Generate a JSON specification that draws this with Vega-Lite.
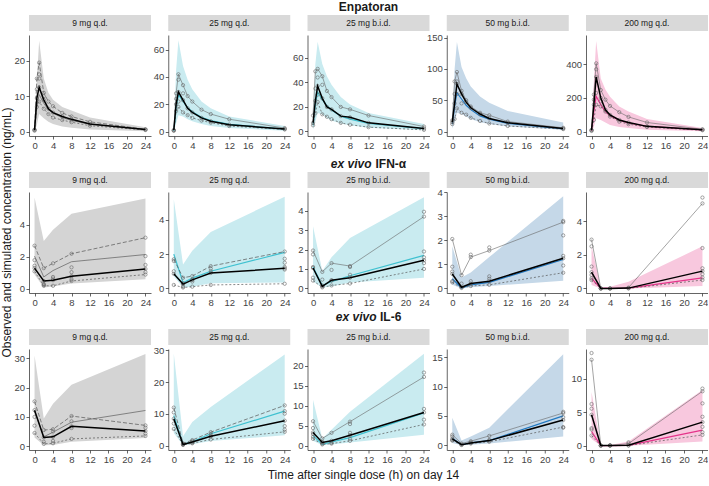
{
"$schema": "https://vega.github.io/schema/vega-lite/v6.json",
"padding": {"left": 0, "top": 0, "right": 0, "bottom": 0},
"autosize": {"type": "pad"},
"background": "white",
"config": {
 "font": "Liberation Sans",
 "view": {"stroke": null},
 "axis": {"grid": false, "domainColor": "#222", "domainWidth": 0.7, "tickColor": "#222", "tickWidth": 0.7, "tickSize": 3, "labelColor": "#444", "labelFontSize": 9.5, "labelPadding": 1.5, "labelFlush": false, "labelOverlap": false, "format": "d"},
 "line": {"color": "#555", "strokeWidth": 0.7},
 "point": {"color": "#666", "size": 11, "strokeWidth": 0.6, "filled": false, "opacity": 1},
 "text": {"font": "Liberation Sans"},
 "title": {"font": "Liberation Sans"}
},
"datasets": {
"w": [
{"p":"A1","t":0,"lo":0,"hi":1,"sim":0.3,"up":0.6,"dn":0.3,"med":0.5},
{"p":"A1","t":0.5,"lo":2,"hi":15,"sim":7,"up":15,"dn":7,"med":9.5},
{"p":"A1","t":1,"lo":5,"hi":25.7,"sim":10.5,"up":19.5,"dn":8.5,"med":12.5},
{"p":"A1","t":2,"lo":3.8,"hi":15,"sim":8,"up":11,"dn":6.5,"med":9},
{"p":"A1","t":3,"lo":2.8,"hi":11,"sim":6.2,"up":8.5,"dn":5,"med":6.5},
{"p":"A1","t":4,"lo":2.2,"hi":9,"sim":5.2,"up":7.2,"dn":4,"med":5.4},
{"p":"A1","t":6,"lo":1.5,"hi":7,"sim":4,"up":5.3,"dn":3.3,"med":4.3},
{"p":"A1","t":8,"lo":1.1,"hi":6,"sim":3.2,"up":4.3,"dn":2.7,"med":3.5},
{"p":"A1","t":12,"lo":0.6,"hi":4,"sim":2.1,"up":2.8,"dn":1.7,"med":2.2},
{"p":"A1","t":24,"lo":0.15,"hi":1.3,"sim":0.6,"up":0.7,"dn":0.5,"med":0.6},
{"p":"A2","t":0,"lo":0,"hi":2,"sim":0.3,"up":1,"dn":0.5,"med":1},
{"p":"A2","t":0.5,"lo":6,"hi":45,"sim":17,"up":28,"dn":15,"med":20},
{"p":"A2","t":1,"lo":12,"hi":67,"sim":27,"up":42,"dn":18,"med":29},
{"p":"A2","t":2,"lo":11,"hi":48,"sim":22,"up":34,"dn":14,"med":23},
{"p":"A2","t":3,"lo":9,"hi":38,"sim":17.5,"up":26,"dn":12,"med":17},
{"p":"A2","t":4,"lo":7.5,"hi":31,"sim":14.5,"up":22,"dn":10,"med":14},
{"p":"A2","t":6,"lo":5.5,"hi":22,"sim":10.5,"up":16,"dn":8,"med":10},
{"p":"A2","t":8,"lo":4,"hi":17,"sim":8,"up":12.8,"dn":6.5,"med":7.5},
{"p":"A2","t":12,"lo":2.5,"hi":11,"sim":5.2,"up":9,"dn":4,"med":5},
{"p":"A2","t":24,"lo":0.6,"hi":4,"sim":1.7,"up":2.5,"dn":1.5,"med":1.8},
{"p":"A3","t":0,"lo":1.5,"hi":13,"sim":5,"up":13,"dn":5,"med":7},
{"p":"A3","t":0.5,"lo":8,"hi":55,"sim":22,"up":49,"dn":15,"med":25},
{"p":"A3","t":1,"lo":15,"hi":73,"sim":32,"up":51,"dn":24,"med":37},
{"p":"A3","t":2,"lo":14,"hi":55,"sim":26,"up":45,"dn":14,"med":27},
{"p":"A3","t":3,"lo":11,"hi":45,"sim":21,"up":33,"dn":12,"med":20},
{"p":"A3","t":4,"lo":9,"hi":38,"sim":17.5,"up":28,"dn":10,"med":18},
{"p":"A3","t":6,"lo":6.5,"hi":28,"sim":12.5,"up":20,"dn":7,"med":12.5},
{"p":"A3","t":8,"lo":5,"hi":22,"sim":10,"up":18,"dn":5.5,"med":11.5},
{"p":"A3","t":12,"lo":3,"hi":15,"sim":6.5,"up":13,"dn":3.5,"med":7},
{"p":"A3","t":24,"lo":1,"hi":6,"sim":2.3,"up":4,"dn":1.3,"med":2.5},
{"p":"A4","t":0,"lo":5,"hi":25,"sim":12,"up":18,"dn":12,"med":15},
{"p":"A4","t":0.5,"lo":15,"hi":100,"sim":40,"up":80,"dn":20,"med":45},
{"p":"A4","t":1,"lo":30,"hi":143,"sim":62,"up":95,"dn":37,"med":76},
{"p":"A4","t":2,"lo":28,"hi":103,"sim":52,"up":65,"dn":30,"med":60},
{"p":"A4","t":3,"lo":24,"hi":85,"sim":42,"up":50,"dn":27,"med":47},
{"p":"A4","t":4,"lo":20,"hi":72,"sim":35,"up":40,"dn":22,"med":38},
{"p":"A4","t":6,"lo":15,"hi":56,"sim":25,"up":30,"dn":17,"med":28},
{"p":"A4","t":8,"lo":12,"hi":46,"sim":20,"up":26,"dn":13,"med":21},
{"p":"A4","t":12,"lo":8,"hi":33,"sim":13,"up":16,"dn":9,"med":14},
{"p":"A4","t":24,"lo":3,"hi":14.6,"sim":4.5,"up":6,"dn":4,"med":5},
{"p":"A5","t":0,"lo":0,"hi":15,"sim":5,"up":10,"dn":5,"med":10},
{"p":"A5","t":0.5,"lo":30,"hi":300,"sim":120,"up":220,"dn":70,"med":160},
{"p":"A5","t":1,"lo":80,"hi":537,"sim":210,"up":405,"dn":160,"med":325},
{"p":"A5","t":2,"lo":70,"hi":315,"sim":160,"up":247,"dn":150,"med":200},
{"p":"A5","t":3,"lo":55,"hi":250,"sim":120,"up":190,"dn":120,"med":130},
{"p":"A5","t":4,"lo":40,"hi":208,"sim":95,"up":153,"dn":90,"med":100},
{"p":"A5","t":6,"lo":28,"hi":149,"sim":68,"up":116,"dn":60,"med":70},
{"p":"A5","t":8,"lo":22,"hi":120,"sim":52,"up":88,"dn":45,"med":55},
{"p":"A5","t":12,"lo":12,"hi":75,"sim":32,"up":55,"dn":28,"med":32},
{"p":"A5","t":24,"lo":3,"hi":22,"sim":11,"up":15,"dn":9,"med":12},
{"p":"B1","t":0,"lo":0.9,"hi":5.7,"sim":2.05,"up":2.7,"dn":1.1,"med":1.3},
{"p":"B1","t":2,"lo":0.1,"hi":3.0,"sim":0.75,"up":1.3,"dn":0.2,"med":0.5},
{"p":"B1","t":4,"lo":0.15,"hi":3.7,"sim":1.15,"up":1.6,"dn":0.2,"med":0.55},
{"p":"B1","t":8,"lo":0.35,"hi":4.7,"sim":1.7,"up":2.2,"dn":0.5,"med":0.8},
{"p":"B1","t":24,"lo":0.6,"hi":5.65,"sim":2.15,"up":3.2,"dn":0.9,"med":1.25},
{"p":"B2","t":0,"lo":0.7,"hi":5.2,"sim":2.0,"up":1.7,"dn":0.2,"med":0.85},
{"p":"B2","t":2,"lo":0.05,"hi":1.4,"sim":0.33,"up":0.62,"dn":0.05,"med":0.25},
{"p":"B2","t":4,"lo":0.1,"hi":2.2,"sim":0.6,"up":0.72,"dn":0.1,"med":0.5},
{"p":"B2","t":8,"lo":0.3,"hi":3.3,"sim":1.0,"up":1.3,"dn":0.2,"med":0.9},
{"p":"B2","t":24,"lo":0.35,"hi":5.35,"sim":2.1,"up":2.15,"dn":0.27,"med":1.17},
{"p":"B3","t":0,"lo":0.35,"hi":3.2,"sim":1.1,"up":1.95,"dn":0.4,"med":1.05},
{"p":"B3","t":2,"lo":0.05,"hi":0.9,"sim":0.15,"up":0.85,"dn":0.05,"med":0.1},
{"p":"B3","t":4,"lo":0.1,"hi":1.6,"sim":0.35,"up":1.3,"dn":0.15,"med":0.42},
{"p":"B3","t":8,"lo":0.3,"hi":2.6,"sim":0.65,"up":1.15,"dn":0.25,"med":0.55},
{"p":"B3","t":24,"lo":0.55,"hi":4.7,"sim":1.7,"up":3.7,"dn":1.0,"med":1.45},
{"p":"B4","t":0,"lo":0.15,"hi":1.75,"sim":0.4,"up":2.05,"dn":0.25,"med":0.6},
{"p":"B4","t":2,"lo":0,"hi":0.45,"sim":0.02,"up":0.55,"dn":0.02,"med":0.05},
{"p":"B4","t":4,"lo":0.05,"hi":0.66,"sim":0.15,"up":1.3,"dn":0.1,"med":0.2},
{"p":"B4","t":8,"lo":0.1,"hi":1.3,"sim":0.25,"up":1.57,"dn":0.15,"med":0.3},
{"p":"B4","t":24,"lo":0.32,"hi":3.82,"sim":1.2,"up":2.75,"dn":0.65,"med":1.25},
{"p":"B5","t":0,"lo":0.2,"hi":2.5,"sim":0.6,"up":2.9,"dn":0.5,"med":0.97},
{"p":"B5","t":2,"lo":0,"hi":0.05,"sim":0,"up":0,"dn":0,"med":0},
{"p":"B5","t":4,"lo":0,"hi":0.1,"sim":0,"up":0,"dn":0,"med":0},
{"p":"B5","t":8,"lo":0,"hi":0.4,"sim":0.02,"up":0.05,"dn":0,"med":0.02},
{"p":"B5","t":24,"lo":0.15,"hi":2.5,"sim":0.63,"up":5.05,"dn":0.5,"med":1.03},
{"p":"C1","t":0,"lo":3,"hi":31,"sim":12,"up":15.3,"dn":4.5,"med":12.3},
{"p":"C1","t":2,"lo":0.3,"hi":9.5,"sim":3.2,"up":5.5,"dn":0.8,"med":3},
{"p":"C1","t":4,"lo":0.4,"hi":14.5,"sim":4.8,"up":5.8,"dn":1.0,"med":3.2},
{"p":"C1","t":8,"lo":1.5,"hi":21,"sim":8.2,"up":10.3,"dn":2.5,"med":6.8},
{"p":"C1","t":24,"lo":2.8,"hi":31.5,"sim":12.2,"up":7.1,"dn":3.5,"med":5.2},
{"p":"C2","t":0,"lo":4,"hi":29,"sim":9.5,"up":12,"dn":5.3,"med":8.5},
{"p":"C2","t":2,"lo":0.2,"hi":3,"sim":0.5,"up":0.8,"dn":0.3,"med":0.4},
{"p":"C2","t":4,"lo":0.5,"hi":7.5,"sim":1.3,"up":1.8,"dn":0.8,"med":1.2},
{"p":"C2","t":8,"lo":1.5,"hi":12.2,"sim":3.8,"up":4.3,"dn":2.0,"med":3.0},
{"p":"C2","t":24,"lo":3.3,"hi":28.7,"sim":10.9,"up":12.7,"dn":4.4,"med":7.9},
{"p":"C3","t":0,"lo":1.2,"hi":11.5,"sim":2.5,"up":6.1,"dn":1.7,"med":3.3},
{"p":"C3","t":2,"lo":0.1,"hi":1.8,"sim":0.3,"up":1.8,"dn":0.3,"med":0.8},
{"p":"C3","t":4,"lo":0.3,"hi":4.0,"sim":0.9,"up":3.2,"dn":0.5,"med":1.2},
{"p":"C3","t":8,"lo":0.8,"hi":8.5,"sim":2.0,"up":6.0,"dn":1.2,"med":2.6},
{"p":"C3","t":24,"lo":2.7,"hi":23,"sim":8.2,"up":17.2,"dn":5.3,"med":8.3},
{"p":"C4","t":0,"lo":0.4,"hi":4.7,"sim":1.2,"up":1.8,"dn":0.8,"med":1.1},
{"p":"C4","t":2,"lo":0.02,"hi":0.8,"sim":0.1,"up":0.3,"dn":0.05,"med":0.1},
{"p":"C4","t":4,"lo":0.1,"hi":1.5,"sim":0.4,"up":0.7,"dn":0.3,"med":0.4},
{"p":"C4","t":8,"lo":0.3,"hi":3.0,"sim":0.8,"up":1.6,"dn":0.6,"med":0.8},
{"p":"C4","t":24,"lo":1.5,"hi":15.5,"sim":5.0,"up":5.5,"dn":3.1,"med":4.3},
{"p":"C5","t":0,"lo":1.0,"hi":8,"sim":2.1,"up":12.8,"dn":1.5,"med":4.6},
{"p":"C5","t":2,"lo":0,"hi":0.1,"sim":0,"up":0.02,"dn":0,"med":0.02},
{"p":"C5","t":4,"lo":0,"hi":0.1,"sim":0,"up":0.02,"dn":0,"med":0.02},
{"p":"C5","t":8,"lo":0,"hi":0.6,"sim":0.05,"up":0.3,"dn":0.02,"med":0.05},
{"p":"C5","t":24,"lo":0.6,"hi":8.3,"sim":2.3,"up":8.1,"dn":1.6,"med":3.5}
],
"x": [
{"p":"A1","t":0.5,"v":12},{"p":"A1","t":1,"v":16.2},{"p":"A1","t":1,"v":15},{"p":"A1","t":2,"v":10},
{"p":"A2","t":0.5,"v":24},{"p":"A2","t":1,"v":38},{"p":"A2","t":1,"v":22},{"p":"A2","t":2,"v":28},
{"p":"A3","t":0.5,"v":35},{"p":"A3","t":1,"v":44},{"p":"A3","t":1,"v":30},{"p":"A3","t":2,"v":38},
{"p":"A4","t":0.5,"v":60},{"p":"A4","t":1,"v":80},{"p":"A4","t":1,"v":60},{"p":"A4","t":2,"v":45},
{"p":"A5","t":0.5,"v":190},{"p":"A5","t":1,"v":370},{"p":"A5","t":1,"v":230},{"p":"A5","t":2,"v":180},
{"p":"B1","t":0,"v":1.8},{"p":"B1","t":0,"v":1.45},{"p":"B1","t":2,"v":0.3},{"p":"B1","t":2,"v":0.25},{"p":"B1","t":4,"v":0.75},{"p":"B1","t":4,"v":0.65},{"p":"B1","t":8,"v":1.35},{"p":"B1","t":8,"v":1.05},{"p":"B1","t":8,"v":0.6},{"p":"B1","t":24,"v":2.05},{"p":"B1","t":24,"v":1.5},{"p":"B1","t":24,"v":1.05},
{"p":"B2","t":0,"v":1.6},{"p":"B2","t":0,"v":1.0},{"p":"B2","t":2,"v":0.3},{"p":"B2","t":2,"v":0.1},{"p":"B2","t":4,"v":0.5},{"p":"B2","t":4,"v":0.4},{"p":"B2","t":8,"v":1.15},{"p":"B2","t":8,"v":1.0},{"p":"B2","t":24,"v":1.73},{"p":"B2","t":24,"v":1.5},{"p":"B2","t":24,"v":1.25},{"p":"B2","t":24,"v":1.1},
{"p":"B3","t":0,"v":1.75},{"p":"B3","t":0,"v":1.1},{"p":"B3","t":0,"v":0.55},{"p":"B3","t":2,"v":0.45},{"p":"B3","t":2,"v":0.15},{"p":"B3","t":4,"v":0.95},{"p":"B3","t":4,"v":0.4},{"p":"B3","t":8,"v":1.1},{"p":"B3","t":8,"v":0.7},{"p":"B3","t":24,"v":3.95},{"p":"B3","t":24,"v":1.9},{"p":"B3","t":24,"v":1.6},{"p":"B3","t":24,"v":1.3},
{"p":"B4","t":0,"v":0.9},{"p":"B4","t":0,"v":0.7},{"p":"B4","t":0,"v":0.3},{"p":"B4","t":2,"v":0.2},{"p":"B4","t":4,"v":1.4},{"p":"B4","t":4,"v":0.3},{"p":"B4","t":8,"v":1.7},{"p":"B4","t":8,"v":0.5},{"p":"B4","t":8,"v":0.4},{"p":"B4","t":24,"v":2.8},{"p":"B4","t":24,"v":2.2},{"p":"B4","t":24,"v":1.35},{"p":"B4","t":24,"v":0.95},
{"p":"B5","t":0,"v":2.5},{"p":"B5","t":0,"v":1.3},{"p":"B5","t":0,"v":0.8},{"p":"B5","t":0,"v":0.6},{"p":"B5","t":24,"v":5.4},{"p":"B5","t":24,"v":2.4},{"p":"B5","t":24,"v":1.2},{"p":"B5","t":24,"v":0.85},{"p":"B5","t":24,"v":0.65},
{"p":"C1","t":0,"v":10},{"p":"C1","t":0,"v":7},{"p":"C1","t":2,"v":1.5},{"p":"C1","t":4,"v":5.0},{"p":"C1","t":4,"v":1.8},{"p":"C1","t":8,"v":8.5},{"p":"C1","t":8,"v":6.2},{"p":"C1","t":24,"v":6.3},{"p":"C1","t":24,"v":4.3},
{"p":"C2","t":0,"v":10.5},{"p":"C2","t":0,"v":7},{"p":"C2","t":2,"v":0.5},{"p":"C2","t":4,"v":1.5},{"p":"C2","t":4,"v":1.0},{"p":"C2","t":8,"v":3.7},{"p":"C2","t":8,"v":3.0},{"p":"C2","t":24,"v":10.9},{"p":"C2","t":24,"v":10.1},{"p":"C2","t":24,"v":6.2},{"p":"C2","t":24,"v":5.1},
{"p":"C3","t":0,"v":4.4},{"p":"C3","t":0,"v":2.9},{"p":"C3","t":0,"v":2.2},{"p":"C3","t":2,"v":0.9},{"p":"C3","t":2,"v":0.5},{"p":"C3","t":4,"v":0.7},{"p":"C3","t":8,"v":5.4},{"p":"C3","t":8,"v":3.2},{"p":"C3","t":8,"v":1.7},{"p":"C3","t":24,"v":18.3},{"p":"C3","t":24,"v":9.2},{"p":"C3","t":24,"v":6.5},
{"p":"C4","t":0,"v":1.5},{"p":"C4","t":0,"v":0.9},{"p":"C4","t":4,"v":0.5},{"p":"C4","t":8,"v":0.9},{"p":"C4","t":24,"v":5.7},{"p":"C4","t":24,"v":4.8},{"p":"C4","t":24,"v":3.0},
{"p":"C5","t":0,"v":13.8},{"p":"C5","t":0,"v":6.2},{"p":"C5","t":0,"v":5.5},{"p":"C5","t":0,"v":2.6},{"p":"C5","t":0,"v":2.4},{"p":"C5","t":4,"v":0.05},{"p":"C5","t":8,"v":0.5},{"p":"C5","t":24,"v":8.5},{"p":"C5","t":24,"v":6.3},{"p":"C5","t":24,"v":4.3},{"p":"C5","t":24,"v":2.8},{"p":"C5","t":24,"v":2.0}
]
},
"title": {"text": "Time after single dose (h) on day 14", "orient": "bottom", "fontSize": 12, "fontWeight": "normal", "color": "#1a1a1a", "offset": 6, "anchor": "middle", "dx": 9},
"vconcat": [
{
"title": {"text": "Observed and simulated concentration (ng/mL)", "orient": "left", "fontSize": 12, "fontWeight": "normal", "color": "#1a1a1a", "offset": 0, "anchor": "middle"},
"columns": 5,
"spacing": {"row": 4, "column": 17.25},
"bounds": "flush",
"concat": [
{"width":122,"height":30,"data":{"values":[{"lab":"9 mg q.d."}]},"layer":[
 {"mark":{"type":"rect","color":"#d9d9d9"},"encoding":{"x":{"datum":0,"type":"quantitative","scale":{"domain":[0,1],"nice":false},"axis":null},"x2":{"datum":1},"y":{"datum":0,"type":"quantitative","scale":{"domain":[0,1.875],"nice":false},"axis":null},"y2":{"datum":1}}},
 {"mark":{"type":"text","fontSize":8.5,"color":"#1a1a1a"},"encoding":{"x":{"datum":0.5,"type":"quantitative","axis":null},"y":{"datum":0.5,"type":"quantitative","axis":null},"text":{"field":"lab"}}}]},
{"width":122,"height":30,"data":{"values":[{"lab":"25 mg q.d."}]},"layer":[
 {"mark":{"type":"rect","color":"#d9d9d9"},"encoding":{"x":{"datum":0,"type":"quantitative","scale":{"domain":[0,1],"nice":false},"axis":null},"x2":{"datum":1},"y":{"datum":0,"type":"quantitative","scale":{"domain":[0,1.875],"nice":false},"axis":null},"y2":{"datum":1}}},
 {"mark":{"type":"text","fontSize":8.5,"color":"#1a1a1a"},"encoding":{"x":{"datum":0.5,"type":"quantitative","axis":null},"y":{"datum":0.5,"type":"quantitative","axis":null},"text":{"field":"lab"}}}]},
{"width":122,"height":30,"data":{"values":[{"lab":"25 mg b.i.d."}]},"layer":[
 {"mark":{"type":"rect","color":"#d9d9d9"},"encoding":{"x":{"datum":0,"type":"quantitative","scale":{"domain":[0,1],"nice":false},"axis":null},"x2":{"datum":1},"y":{"datum":0,"type":"quantitative","scale":{"domain":[0,1.875],"nice":false},"axis":null},"y2":{"datum":1}}},
 {"mark":{"type":"text","fontSize":8.5,"color":"#1a1a1a"},"encoding":{"x":{"datum":0.5,"type":"quantitative","axis":null},"y":{"datum":0.5,"type":"quantitative","axis":null},"text":{"field":"lab"}}},
 {"data":{"values":[{"ttl":"Enpatoran"}]},"mark":{"type":"text","fontSize":12,"fontWeight":"bold","color":"#1a1a1a"},"encoding":{"x":{"datum":0.5,"type":"quantitative","axis":null},"y":{"datum":1.5,"type":"quantitative","axis":null},"text":{"field":"ttl"}}}]},
{"width":122,"height":30,"data":{"values":[{"lab":"50 mg b.i.d."}]},"layer":[
 {"mark":{"type":"rect","color":"#d9d9d9"},"encoding":{"x":{"datum":0,"type":"quantitative","scale":{"domain":[0,1],"nice":false},"axis":null},"x2":{"datum":1},"y":{"datum":0,"type":"quantitative","scale":{"domain":[0,1.875],"nice":false},"axis":null},"y2":{"datum":1}}},
 {"mark":{"type":"text","fontSize":8.5,"color":"#1a1a1a"},"encoding":{"x":{"datum":0.5,"type":"quantitative","axis":null},"y":{"datum":0.5,"type":"quantitative","axis":null},"text":{"field":"lab"}}}]},
{"width":122,"height":30,"data":{"values":[{"lab":"200 mg q.d."}]},"layer":[
 {"mark":{"type":"rect","color":"#d9d9d9"},"encoding":{"x":{"datum":0,"type":"quantitative","scale":{"domain":[0,1],"nice":false},"axis":null},"x2":{"datum":1},"y":{"datum":0,"type":"quantitative","scale":{"domain":[0,1.875],"nice":false},"axis":null},"y2":{"datum":1}}},
 {"mark":{"type":"text","fontSize":8.5,"color":"#1a1a1a"},"encoding":{"x":{"datum":0.5,"type":"quantitative","axis":null},"y":{"datum":0.5,"type":"quantitative","axis":null},"text":{"field":"lab"}}}]},

{"width":122,"height":101,"data":{"name":"w"},"transform":[{"filter":"datum.p=='A1'"}],"encoding":{"x":{"field":"t","type":"quantitative","scale":{"domain":[-1.2,25.2],"nice":false,"zero":false},"axis":{"values":[0,4,8,12,16,20,24],"tickCount":10,"format":"d","title":null,"labelOverlap":false}}},"layer":[
 {"mark":{"type":"area","color":"#d4d4d4"},"encoding":{"y":{"field":"lo","type":"quantitative","scale":{"domain":[-1.2,27.3],"nice":false,"zero":false},"axis":{"values":[0,10,20],"tickCount":10,"format":"d","title":null,"labelOverlap":false}},"y2":{"field":"hi"}}},
 {"mark":{"type":"line","color":"#777","strokeWidth":0.9},"encoding":{"y":{"field":"sim","type":"quantitative"}}},
 {"mark":{"type":"line","strokeDash":[4,2]},"encoding":{"y":{"field":"up","type":"quantitative"}}},
 {"mark":{"type":"line","strokeDash":[2,2]},"encoding":{"y":{"field":"dn","type":"quantitative"}}},
 {"transform":[{"fold":["up","dn","med"]}],"mark":"point","encoding":{"y":{"field":"value","type":"quantitative"}}},
 {"data":{"name":"x"},"transform":[{"filter":"datum.p=='A1'"}],"mark":"point","encoding":{"y":{"field":"v","type":"quantitative"}}},
 {"mark":{"type":"line","color":"#000","strokeWidth":1.5},"encoding":{"y":{"field":"med","type":"quantitative"}}}]},
{"width":122,"height":101,"data":{"name":"w"},"transform":[{"filter":"datum.p=='A2'"}],"encoding":{"x":{"field":"t","type":"quantitative","scale":{"domain":[-1.2,25.2],"nice":false,"zero":false},"axis":{"values":[0,4,8,12,16,20,24],"tickCount":10,"format":"d","title":null,"labelOverlap":false}}},"layer":[
 {"mark":{"type":"area","color":"#c9ebf0"},"encoding":{"y":{"field":"lo","type":"quantitative","scale":{"domain":[-3.3,70.8],"nice":false,"zero":false},"axis":{"values":[0,20,40,60],"tickCount":10,"format":"d","title":null,"labelOverlap":false}},"y2":{"field":"hi"}}},
 {"mark":{"type":"line","color":"#3fc1d0","strokeWidth":1.2},"encoding":{"y":{"field":"sim","type":"quantitative"}}},
 {"mark":{"type":"line","color":"#666","strokeWidth":0.6},"encoding":{"y":{"field":"up","type":"quantitative"}}},
 {"mark":{"type":"line","strokeDash":[2,2]},"encoding":{"y":{"field":"dn","type":"quantitative"}}},
 {"transform":[{"fold":["up","dn","med"]}],"mark":"point","encoding":{"y":{"field":"value","type":"quantitative"}}},
 {"data":{"name":"x"},"transform":[{"filter":"datum.p=='A2'"}],"mark":"point","encoding":{"y":{"field":"v","type":"quantitative"}}},
 {"mark":{"type":"line","color":"#000","strokeWidth":1.5},"encoding":{"y":{"field":"med","type":"quantitative"}}}]},
{"width":122,"height":101,"data":{"name":"w"},"transform":[{"filter":"datum.p=='A3'"}],"encoding":{"x":{"field":"t","type":"quantitative","scale":{"domain":[-1.2,25.2],"nice":false,"zero":false},"axis":{"values":[0,4,8,12,16,20,24],"tickCount":10,"format":"d","title":null,"labelOverlap":false}}},"layer":[
 {"mark":{"type":"area","color":"#c9ebf0"},"encoding":{"y":{"field":"lo","type":"quantitative","scale":{"domain":[-3.7,78.6],"nice":false,"zero":false},"axis":{"values":[0,20,40,60],"tickCount":10,"format":"d","title":null,"labelOverlap":false}},"y2":{"field":"hi"}}},
 {"mark":{"type":"line","color":"#3fc1d0","strokeWidth":1.2},"encoding":{"y":{"field":"sim","type":"quantitative"}}},
 {"mark":{"type":"line","color":"#666","strokeWidth":0.6},"encoding":{"y":{"field":"up","type":"quantitative"}}},
 {"mark":{"type":"line","strokeDash":[2,2]},"encoding":{"y":{"field":"dn","type":"quantitative"}}},
 {"transform":[{"fold":["up","dn","med"]}],"mark":"point","encoding":{"y":{"field":"value","type":"quantitative"}}},
 {"data":{"name":"x"},"transform":[{"filter":"datum.p=='A3'"}],"mark":"point","encoding":{"y":{"field":"v","type":"quantitative"}}},
 {"mark":{"type":"line","color":"#000","strokeWidth":1.5},"encoding":{"y":{"field":"med","type":"quantitative"}}}]},
{"width":122,"height":101,"data":{"name":"w"},"transform":[{"filter":"datum.p=='A4'"}],"encoding":{"x":{"field":"t","type":"quantitative","scale":{"domain":[-1.2,25.2],"nice":false,"zero":false},"axis":{"values":[0,4,8,12,16,20,24],"tickCount":10,"format":"d","title":null,"labelOverlap":false}}},"layer":[
 {"mark":{"type":"area","color":"#c5d8e8"},"encoding":{"y":{"field":"lo","type":"quantitative","scale":{"domain":[-7,154],"nice":false,"zero":false},"axis":{"values":[0,50,100,150],"tickCount":10,"format":"d","title":null,"labelOverlap":false}},"y2":{"field":"hi"}}},
 {"mark":{"type":"line","color":"#2077c0","strokeWidth":1.2},"encoding":{"y":{"field":"sim","type":"quantitative"}}},
 {"mark":{"type":"line","color":"#666","strokeWidth":0.6},"encoding":{"y":{"field":"up","type":"quantitative"}}},
 {"mark":{"type":"line","strokeDash":[2,2]},"encoding":{"y":{"field":"dn","type":"quantitative"}}},
 {"transform":[{"fold":["up","dn","med"]}],"mark":"point","encoding":{"y":{"field":"value","type":"quantitative"}}},
 {"data":{"name":"x"},"transform":[{"filter":"datum.p=='A4'"}],"mark":"point","encoding":{"y":{"field":"v","type":"quantitative"}}},
 {"mark":{"type":"line","color":"#000","strokeWidth":1.5},"encoding":{"y":{"field":"med","type":"quantitative"}}}]},
{"width":122,"height":101,"data":{"name":"w"},"transform":[{"filter":"datum.p=='A5'"}],"encoding":{"x":{"field":"t","type":"quantitative","scale":{"domain":[-1.2,25.2],"nice":false,"zero":false},"axis":{"values":[0,4,8,12,16,20,24],"tickCount":10,"format":"d","title":null,"labelOverlap":false}}},"layer":[
 {"mark":{"type":"area","color":"#f8c8de"},"encoding":{"y":{"field":"lo","type":"quantitative","scale":{"domain":[-25,573],"nice":false,"zero":false},"axis":{"values":[0,200,400],"tickCount":10,"format":"d","title":null,"labelOverlap":false}},"y2":{"field":"hi"}}},
 {"mark":{"type":"line","color":"#e5338a","strokeWidth":1.2},"encoding":{"y":{"field":"sim","type":"quantitative"}}},
 {"mark":{"type":"line","color":"#666","strokeWidth":0.6},"encoding":{"y":{"field":"up","type":"quantitative"}}},
 {"mark":{"type":"line","strokeDash":[2,2]},"encoding":{"y":{"field":"dn","type":"quantitative"}}},
 {"transform":[{"fold":["up","dn","med"]}],"mark":"point","encoding":{"y":{"field":"value","type":"quantitative"}}},
 {"data":{"name":"x"},"transform":[{"filter":"datum.p=='A5'"}],"mark":"point","encoding":{"y":{"field":"v","type":"quantitative"}}},
 {"mark":{"type":"line","color":"#000","strokeWidth":1.5},"encoding":{"y":{"field":"med","type":"quantitative"}}}]},

{"width":122,"height":48,"data":{"values":[{"lab":"9 mg q.d."}]},"layer":[
 {"mark":{"type":"rect","color":"#d9d9d9"},"encoding":{"x":{"datum":0,"type":"quantitative","scale":{"domain":[0,1],"nice":false},"axis":null},"x2":{"datum":1},"y":{"datum":0,"type":"quantitative","scale":{"domain":[0,3],"nice":false},"axis":null},"y2":{"datum":1}}},
 {"mark":{"type":"text","fontSize":8.5,"color":"#1a1a1a"},"encoding":{"x":{"datum":0.5,"type":"quantitative","axis":null},"y":{"datum":0.5,"type":"quantitative","axis":null},"text":{"field":"lab"}}}]},
{"width":122,"height":48,"data":{"values":[{"lab":"25 mg q.d."}]},"layer":[
 {"mark":{"type":"rect","color":"#d9d9d9"},"encoding":{"x":{"datum":0,"type":"quantitative","scale":{"domain":[0,1],"nice":false},"axis":null},"x2":{"datum":1},"y":{"datum":0,"type":"quantitative","scale":{"domain":[0,3],"nice":false},"axis":null},"y2":{"datum":1}}},
 {"mark":{"type":"text","fontSize":8.5,"color":"#1a1a1a"},"encoding":{"x":{"datum":0.5,"type":"quantitative","axis":null},"y":{"datum":0.5,"type":"quantitative","axis":null},"text":{"field":"lab"}}}]},
{"width":122,"height":48,"data":{"values":[{"lab":"25 mg b.i.d."}]},"layer":[
 {"mark":{"type":"rect","color":"#d9d9d9"},"encoding":{"x":{"datum":0,"type":"quantitative","scale":{"domain":[0,1],"nice":false},"axis":null},"x2":{"datum":1},"y":{"datum":0,"type":"quantitative","scale":{"domain":[0,3],"nice":false},"axis":null},"y2":{"datum":1}}},
 {"mark":{"type":"text","fontSize":8.5,"color":"#1a1a1a"},"encoding":{"x":{"datum":0.5,"type":"quantitative","axis":null},"y":{"datum":0.5,"type":"quantitative","axis":null},"text":{"field":"lab"}}},
 {"data":{"values":[{"ttl":"ex vivo"}]},"mark":{"type":"text","fontSize":12,"fontWeight":"bold","fontStyle":"italic","color":"#1a1a1a","align":"right","dx":3},"encoding":{"x":{"datum":0.5,"type":"quantitative","axis":null},"y":{"datum":1.53,"type":"quantitative","axis":null},"text":{"field":"ttl"}}},
 {"data":{"values":[{"ttl":"IFN-α"}]},"mark":{"type":"text","fontSize":12,"fontWeight":"bold","color":"#1a1a1a","align":"left","dx":7},"encoding":{"x":{"datum":0.5,"type":"quantitative","axis":null},"y":{"datum":1.53,"type":"quantitative","axis":null},"text":{"field":"ttl"}}}]},
{"width":122,"height":48,"data":{"values":[{"lab":"50 mg b.i.d."}]},"layer":[
 {"mark":{"type":"rect","color":"#d9d9d9"},"encoding":{"x":{"datum":0,"type":"quantitative","scale":{"domain":[0,1],"nice":false},"axis":null},"x2":{"datum":1},"y":{"datum":0,"type":"quantitative","scale":{"domain":[0,3],"nice":false},"axis":null},"y2":{"datum":1}}},
 {"mark":{"type":"text","fontSize":8.5,"color":"#1a1a1a"},"encoding":{"x":{"datum":0.5,"type":"quantitative","axis":null},"y":{"datum":0.5,"type":"quantitative","axis":null},"text":{"field":"lab"}}}]},
{"width":122,"height":48,"data":{"values":[{"lab":"200 mg q.d."}]},"layer":[
 {"mark":{"type":"rect","color":"#d9d9d9"},"encoding":{"x":{"datum":0,"type":"quantitative","scale":{"domain":[0,1],"nice":false},"axis":null},"x2":{"datum":1},"y":{"datum":0,"type":"quantitative","scale":{"domain":[0,3],"nice":false},"axis":null},"y2":{"datum":1}}},
 {"mark":{"type":"text","fontSize":8.5,"color":"#1a1a1a"},"encoding":{"x":{"datum":0.5,"type":"quantitative","axis":null},"y":{"datum":0.5,"type":"quantitative","axis":null},"text":{"field":"lab"}}}]},

{"width":122,"height":101,"data":{"name":"w"},"transform":[{"filter":"datum.p=='B1'"}],"encoding":{"x":{"field":"t","type":"quantitative","scale":{"domain":[-1.2,25.2],"nice":false,"zero":false},"axis":{"values":[0,4,8,12,16,20,24],"tickCount":10,"format":"d","title":null,"labelOverlap":false}}},"layer":[
 {"mark":{"type":"area","color":"#d4d4d4"},"encoding":{"y":{"field":"lo","type":"quantitative","scale":{"domain":[-0.25,6.05],"nice":false,"zero":false},"axis":{"values":[0,2,4],"tickCount":10,"format":"d","title":null,"labelOverlap":false}},"y2":{"field":"hi"}}},
 {"mark":{"type":"line","color":"#777","strokeWidth":0.9},"encoding":{"y":{"field":"sim","type":"quantitative"}}},
 {"mark":{"type":"line","strokeDash":[4,2]},"encoding":{"y":{"field":"up","type":"quantitative"}}},
 {"mark":{"type":"line","strokeDash":[2,2]},"encoding":{"y":{"field":"dn","type":"quantitative"}}},
 {"transform":[{"fold":["up","dn","med"]}],"mark":"point","encoding":{"y":{"field":"value","type":"quantitative"}}},
 {"data":{"name":"x"},"transform":[{"filter":"datum.p=='B1'"}],"mark":"point","encoding":{"y":{"field":"v","type":"quantitative"}}},
 {"mark":{"type":"line","color":"#000","strokeWidth":1.5},"encoding":{"y":{"field":"med","type":"quantitative"}}}]},
{"width":122,"height":101,"data":{"name":"w"},"transform":[{"filter":"datum.p=='B2'"}],"encoding":{"x":{"field":"t","type":"quantitative","scale":{"domain":[-1.2,25.2],"nice":false,"zero":false},"axis":{"values":[0,4,8,12,16,20,24],"tickCount":10,"format":"d","title":null,"labelOverlap":false}}},"layer":[
 {"mark":{"type":"area","color":"#c9ebf0"},"encoding":{"y":{"field":"lo","type":"quantitative","scale":{"domain":[-0.27,5.63],"nice":false,"zero":false},"axis":{"values":[0,2,4],"tickCount":10,"format":"d","title":null,"labelOverlap":false}},"y2":{"field":"hi"}}},
 {"mark":{"type":"line","color":"#3fc1d0","strokeWidth":1.2},"encoding":{"y":{"field":"sim","type":"quantitative"}}},
 {"mark":{"type":"line","strokeDash":[4,2]},"encoding":{"y":{"field":"up","type":"quantitative"}}},
 {"mark":{"type":"line","strokeDash":[2,2]},"encoding":{"y":{"field":"dn","type":"quantitative"}}},
 {"transform":[{"fold":["up","dn","med"]}],"mark":"point","encoding":{"y":{"field":"value","type":"quantitative"}}},
 {"data":{"name":"x"},"transform":[{"filter":"datum.p=='B2'"}],"mark":"point","encoding":{"y":{"field":"v","type":"quantitative"}}},
 {"mark":{"type":"line","color":"#000","strokeWidth":1.5},"encoding":{"y":{"field":"med","type":"quantitative"}}}]},
{"width":122,"height":101,"data":{"name":"w"},"transform":[{"filter":"datum.p=='B3'"}],"encoding":{"x":{"field":"t","type":"quantitative","scale":{"domain":[-1.2,25.2],"nice":false,"zero":false},"axis":{"values":[0,4,8,12,16,20,24],"tickCount":10,"format":"d","title":null,"labelOverlap":false}}},"layer":[
 {"mark":{"type":"area","color":"#c9ebf0"},"encoding":{"y":{"field":"lo","type":"quantitative","scale":{"domain":[-0.24,4.97],"nice":false,"zero":false},"axis":{"values":[0,1,2,3,4],"tickCount":10,"format":"d","title":null,"labelOverlap":false}},"y2":{"field":"hi"}}},
 {"mark":{"type":"line","color":"#3fc1d0","strokeWidth":1.2},"encoding":{"y":{"field":"sim","type":"quantitative"}}},
 {"mark":{"type":"line","color":"#666","strokeWidth":0.6},"encoding":{"y":{"field":"up","type":"quantitative"}}},
 {"mark":{"type":"line","strokeDash":[2,2]},"encoding":{"y":{"field":"dn","type":"quantitative"}}},
 {"transform":[{"fold":["up","dn","med"]}],"mark":"point","encoding":{"y":{"field":"value","type":"quantitative"}}},
 {"data":{"name":"x"},"transform":[{"filter":"datum.p=='B3'"}],"mark":"point","encoding":{"y":{"field":"v","type":"quantitative"}}},
 {"mark":{"type":"line","color":"#000","strokeWidth":1.5},"encoding":{"y":{"field":"med","type":"quantitative"}}}]},
{"width":122,"height":101,"data":{"name":"w"},"transform":[{"filter":"datum.p=='B4'"}],"encoding":{"x":{"field":"t","type":"quantitative","scale":{"domain":[-1.2,25.2],"nice":false,"zero":false},"axis":{"values":[0,4,8,12,16,20,24],"tickCount":10,"format":"d","title":null,"labelOverlap":false}}},"layer":[
 {"mark":{"type":"area","color":"#c5d8e8"},"encoding":{"y":{"field":"lo","type":"quantitative","scale":{"domain":[-0.19,4.0],"nice":false,"zero":false},"axis":{"values":[0,1,2,3,4],"tickCount":10,"format":"d","title":null,"labelOverlap":false}},"y2":{"field":"hi"}}},
 {"mark":{"type":"line","color":"#2077c0","strokeWidth":1.2},"encoding":{"y":{"field":"sim","type":"quantitative"}}},
 {"mark":{"type":"line","color":"#666","strokeWidth":0.6},"encoding":{"y":{"field":"up","type":"quantitative"}}},
 {"mark":{"type":"line","strokeDash":[2,2]},"encoding":{"y":{"field":"dn","type":"quantitative"}}},
 {"transform":[{"fold":["up","dn","med"]}],"mark":"point","encoding":{"y":{"field":"value","type":"quantitative"}}},
 {"data":{"name":"x"},"transform":[{"filter":"datum.p=='B4'"}],"mark":"point","encoding":{"y":{"field":"v","type":"quantitative"}}},
 {"mark":{"type":"line","color":"#000","strokeWidth":1.5},"encoding":{"y":{"field":"med","type":"quantitative"}}}]},
{"width":122,"height":101,"data":{"name":"w"},"transform":[{"filter":"datum.p=='B5'"}],"encoding":{"x":{"field":"t","type":"quantitative","scale":{"domain":[-1.2,25.2],"nice":false,"zero":false},"axis":{"values":[0,4,8,12,16,20,24],"tickCount":10,"format":"d","title":null,"labelOverlap":false}}},"layer":[
 {"mark":{"type":"area","color":"#f8c8de"},"encoding":{"y":{"field":"lo","type":"quantitative","scale":{"domain":[-0.27,5.73],"nice":false,"zero":false},"axis":{"values":[0,2,4],"tickCount":10,"format":"d","title":null,"labelOverlap":false}},"y2":{"field":"hi"}}},
 {"mark":{"type":"line","color":"#e5338a","strokeWidth":1.2},"encoding":{"y":{"field":"sim","type":"quantitative"}}},
 {"mark":{"type":"line","color":"#666","strokeWidth":0.6},"encoding":{"y":{"field":"up","type":"quantitative"}}},
 {"mark":{"type":"line","strokeDash":[2,2]},"encoding":{"y":{"field":"dn","type":"quantitative"}}},
 {"transform":[{"fold":["up","dn","med"]}],"mark":"point","encoding":{"y":{"field":"value","type":"quantitative"}}},
 {"data":{"name":"x"},"transform":[{"filter":"datum.p=='B5'"}],"mark":"point","encoding":{"y":{"field":"v","type":"quantitative"}}},
 {"mark":{"type":"line","color":"#000","strokeWidth":1.5},"encoding":{"y":{"field":"med","type":"quantitative"}}}]},

{"width":122,"height":48,"data":{"values":[{"lab":"9 mg q.d."}]},"layer":[
 {"mark":{"type":"rect","color":"#d9d9d9"},"encoding":{"x":{"datum":0,"type":"quantitative","scale":{"domain":[0,1],"nice":false},"axis":null},"x2":{"datum":1},"y":{"datum":0,"type":"quantitative","scale":{"domain":[0,3],"nice":false},"axis":null},"y2":{"datum":1}}},
 {"mark":{"type":"text","fontSize":8.5,"color":"#1a1a1a"},"encoding":{"x":{"datum":0.5,"type":"quantitative","axis":null},"y":{"datum":0.5,"type":"quantitative","axis":null},"text":{"field":"lab"}}}]},
{"width":122,"height":48,"data":{"values":[{"lab":"25 mg q.d."}]},"layer":[
 {"mark":{"type":"rect","color":"#d9d9d9"},"encoding":{"x":{"datum":0,"type":"quantitative","scale":{"domain":[0,1],"nice":false},"axis":null},"x2":{"datum":1},"y":{"datum":0,"type":"quantitative","scale":{"domain":[0,3],"nice":false},"axis":null},"y2":{"datum":1}}},
 {"mark":{"type":"text","fontSize":8.5,"color":"#1a1a1a"},"encoding":{"x":{"datum":0.5,"type":"quantitative","axis":null},"y":{"datum":0.5,"type":"quantitative","axis":null},"text":{"field":"lab"}}}]},
{"width":122,"height":48,"data":{"values":[{"lab":"25 mg b.i.d."}]},"layer":[
 {"mark":{"type":"rect","color":"#d9d9d9"},"encoding":{"x":{"datum":0,"type":"quantitative","scale":{"domain":[0,1],"nice":false},"axis":null},"x2":{"datum":1},"y":{"datum":0,"type":"quantitative","scale":{"domain":[0,3],"nice":false},"axis":null},"y2":{"datum":1}}},
 {"mark":{"type":"text","fontSize":8.5,"color":"#1a1a1a"},"encoding":{"x":{"datum":0.5,"type":"quantitative","axis":null},"y":{"datum":0.5,"type":"quantitative","axis":null},"text":{"field":"lab"}}},
 {"data":{"values":[{"ttl":"ex vivo"}]},"mark":{"type":"text","fontSize":12,"fontWeight":"bold","fontStyle":"italic","color":"#1a1a1a","align":"right","dx":8},"encoding":{"x":{"datum":0.5,"type":"quantitative","axis":null},"y":{"datum":1.72,"type":"quantitative","axis":null},"text":{"field":"ttl"}}},
 {"data":{"values":[{"ttl":"IL-6"}]},"mark":{"type":"text","fontSize":12,"fontWeight":"bold","color":"#1a1a1a","align":"left","dx":11.5},"encoding":{"x":{"datum":0.5,"type":"quantitative","axis":null},"y":{"datum":1.72,"type":"quantitative","axis":null},"text":{"field":"ttl"}}}]},
{"width":122,"height":48,"data":{"values":[{"lab":"50 mg b.i.d."}]},"layer":[
 {"mark":{"type":"rect","color":"#d9d9d9"},"encoding":{"x":{"datum":0,"type":"quantitative","scale":{"domain":[0,1],"nice":false},"axis":null},"x2":{"datum":1},"y":{"datum":0,"type":"quantitative","scale":{"domain":[0,3],"nice":false},"axis":null},"y2":{"datum":1}}},
 {"mark":{"type":"text","fontSize":8.5,"color":"#1a1a1a"},"encoding":{"x":{"datum":0.5,"type":"quantitative","axis":null},"y":{"datum":0.5,"type":"quantitative","axis":null},"text":{"field":"lab"}}}]},
{"width":122,"height":48,"data":{"values":[{"lab":"200 mg q.d."}]},"layer":[
 {"mark":{"type":"rect","color":"#d9d9d9"},"encoding":{"x":{"datum":0,"type":"quantitative","scale":{"domain":[0,1],"nice":false},"axis":null},"x2":{"datum":1},"y":{"datum":0,"type":"quantitative","scale":{"domain":[0,3],"nice":false},"axis":null},"y2":{"datum":1}}},
 {"mark":{"type":"text","fontSize":8.5,"color":"#1a1a1a"},"encoding":{"x":{"datum":0.5,"type":"quantitative","axis":null},"y":{"datum":0.5,"type":"quantitative","axis":null},"text":{"field":"lab"}}}]},

{"width":122,"height":101,"data":{"name":"w"},"transform":[{"filter":"datum.p=='C1'"}],"encoding":{"x":{"field":"t","type":"quantitative","scale":{"domain":[-1.2,25.2],"nice":false,"zero":false},"axis":{"values":[0,4,8,12,16,20,24],"tickCount":10,"format":"d","title":null,"labelOverlap":false}}},"layer":[
 {"mark":{"type":"area","color":"#d4d4d4"},"encoding":{"y":{"field":"lo","type":"quantitative","scale":{"domain":[-1.3,33.2],"nice":false,"zero":false},"axis":{"values":[0,10,20,30],"tickCount":10,"format":"d","title":null,"labelOverlap":false}},"y2":{"field":"hi"}}},
 {"mark":{"type":"line","color":"#777","strokeWidth":0.9},"encoding":{"y":{"field":"sim","type":"quantitative"}}},
 {"mark":{"type":"line","strokeDash":[4,2]},"encoding":{"y":{"field":"up","type":"quantitative"}}},
 {"mark":{"type":"line","strokeDash":[2,2]},"encoding":{"y":{"field":"dn","type":"quantitative"}}},
 {"transform":[{"fold":["up","dn","med"]}],"mark":"point","encoding":{"y":{"field":"value","type":"quantitative"}}},
 {"data":{"name":"x"},"transform":[{"filter":"datum.p=='C1'"}],"mark":"point","encoding":{"y":{"field":"v","type":"quantitative"}}},
 {"mark":{"type":"line","color":"#000","strokeWidth":1.5},"encoding":{"y":{"field":"med","type":"quantitative"}}}]},
{"width":122,"height":101,"data":{"name":"w"},"transform":[{"filter":"datum.p=='C2'"}],"encoding":{"x":{"field":"t","type":"quantitative","scale":{"domain":[-1.2,25.2],"nice":false,"zero":false},"axis":{"values":[0,4,8,12,16,20,24],"tickCount":10,"format":"d","title":null,"labelOverlap":false}}},"layer":[
 {"mark":{"type":"area","color":"#c9ebf0"},"encoding":{"y":{"field":"lo","type":"quantitative","scale":{"domain":[-1.3,30.4],"nice":false,"zero":false},"axis":{"values":[0,10,20,30],"tickCount":10,"format":"d","title":null,"labelOverlap":false}},"y2":{"field":"hi"}}},
 {"mark":{"type":"line","color":"#3fc1d0","strokeWidth":1.2},"encoding":{"y":{"field":"sim","type":"quantitative"}}},
 {"mark":{"type":"line","strokeDash":[4,2]},"encoding":{"y":{"field":"up","type":"quantitative"}}},
 {"mark":{"type":"line","strokeDash":[2,2]},"encoding":{"y":{"field":"dn","type":"quantitative"}}},
 {"transform":[{"fold":["up","dn","med"]}],"mark":"point","encoding":{"y":{"field":"value","type":"quantitative"}}},
 {"data":{"name":"x"},"transform":[{"filter":"datum.p=='C2'"}],"mark":"point","encoding":{"y":{"field":"v","type":"quantitative"}}},
 {"mark":{"type":"line","color":"#000","strokeWidth":1.5},"encoding":{"y":{"field":"med","type":"quantitative"}}}]},
{"width":122,"height":101,"data":{"name":"w"},"transform":[{"filter":"datum.p=='C3'"}],"encoding":{"x":{"field":"t","type":"quantitative","scale":{"domain":[-1.2,25.2],"nice":false,"zero":false},"axis":{"values":[0,4,8,12,16,20,24],"tickCount":10,"format":"d","title":null,"labelOverlap":false}}},"layer":[
 {"mark":{"type":"area","color":"#c9ebf0"},"encoding":{"y":{"field":"lo","type":"quantitative","scale":{"domain":[-1.1,24.2],"nice":false,"zero":false},"axis":{"values":[0,5,10,15,20],"tickCount":10,"format":"d","title":null,"labelOverlap":false}},"y2":{"field":"hi"}}},
 {"mark":{"type":"line","color":"#3fc1d0","strokeWidth":1.2},"encoding":{"y":{"field":"sim","type":"quantitative"}}},
 {"mark":{"type":"line","color":"#666","strokeWidth":0.6},"encoding":{"y":{"field":"up","type":"quantitative"}}},
 {"mark":{"type":"line","strokeDash":[2,2]},"encoding":{"y":{"field":"dn","type":"quantitative"}}},
 {"transform":[{"fold":["up","dn","med"]}],"mark":"point","encoding":{"y":{"field":"value","type":"quantitative"}}},
 {"data":{"name":"x"},"transform":[{"filter":"datum.p=='C3'"}],"mark":"point","encoding":{"y":{"field":"v","type":"quantitative"}}},
 {"mark":{"type":"line","color":"#000","strokeWidth":1.5},"encoding":{"y":{"field":"med","type":"quantitative"}}}]},
{"width":122,"height":101,"data":{"name":"w"},"transform":[{"filter":"datum.p=='C4'"}],"encoding":{"x":{"field":"t","type":"quantitative","scale":{"domain":[-1.2,25.2],"nice":false,"zero":false},"axis":{"values":[0,4,8,12,16,20,24],"tickCount":10,"format":"d","title":null,"labelOverlap":false}}},"layer":[
 {"mark":{"type":"area","color":"#c5d8e8"},"encoding":{"y":{"field":"lo","type":"quantitative","scale":{"domain":[-0.8,16.4],"nice":false,"zero":false},"axis":{"values":[0,5,10,15],"tickCount":10,"format":"d","title":null,"labelOverlap":false}},"y2":{"field":"hi"}}},
 {"mark":{"type":"line","color":"#2077c0","strokeWidth":1.2},"encoding":{"y":{"field":"sim","type":"quantitative"}}},
 {"mark":{"type":"line","color":"#666","strokeWidth":0.6},"encoding":{"y":{"field":"up","type":"quantitative"}}},
 {"mark":{"type":"line","strokeDash":[2,2]},"encoding":{"y":{"field":"dn","type":"quantitative"}}},
 {"transform":[{"fold":["up","dn","med"]}],"mark":"point","encoding":{"y":{"field":"value","type":"quantitative"}}},
 {"data":{"name":"x"},"transform":[{"filter":"datum.p=='C4'"}],"mark":"point","encoding":{"y":{"field":"v","type":"quantitative"}}},
 {"mark":{"type":"line","color":"#000","strokeWidth":1.5},"encoding":{"y":{"field":"med","type":"quantitative"}}}]},
{"width":122,"height":101,"data":{"name":"w"},"transform":[{"filter":"datum.p=='C5'"}],"encoding":{"x":{"field":"t","type":"quantitative","scale":{"domain":[-1.2,25.2],"nice":false,"zero":false},"axis":{"values":[0,4,8,12,16,20,24],"tickCount":10,"format":"d","title":null,"labelOverlap":false}}},"layer":[
 {"mark":{"type":"area","color":"#f8c8de"},"encoding":{"y":{"field":"lo","type":"quantitative","scale":{"domain":[-0.65,14.4],"nice":false,"zero":false},"axis":{"values":[0,5,10],"tickCount":10,"format":"d","title":null,"labelOverlap":false}},"y2":{"field":"hi"}}},
 {"mark":{"type":"line","color":"#e5338a","strokeWidth":1.2},"encoding":{"y":{"field":"sim","type":"quantitative"}}},
 {"mark":{"type":"line","color":"#666","strokeWidth":0.6},"encoding":{"y":{"field":"up","type":"quantitative"}}},
 {"mark":{"type":"line","strokeDash":[2,2]},"encoding":{"y":{"field":"dn","type":"quantitative"}}},
 {"transform":[{"fold":["up","dn","med"]}],"mark":"point","encoding":{"y":{"field":"value","type":"quantitative"}}},
 {"data":{"name":"x"},"transform":[{"filter":"datum.p=='C5'"}],"mark":"point","encoding":{"y":{"field":"v","type":"quantitative"}}},
 {"mark":{"type":"line","color":"#000","strokeWidth":1.5},"encoding":{"y":{"field":"med","type":"quantitative"}}}]}
]
}
]
}
